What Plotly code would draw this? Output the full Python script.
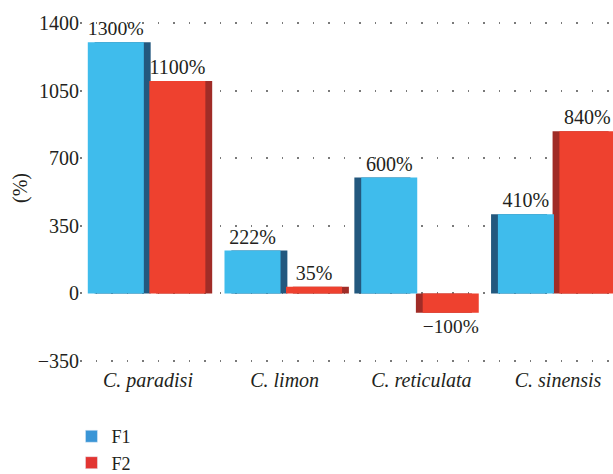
import plotly.graph_objects as go

categories = ["C. paradisi", "C. limon", "C. reticulata", "C. sinensis"]
f1_values = [1300, 222, 600, 410]
f2_values = [1100, 35, -100, 840]
y_ticks = [-350, 0, 350, 700, 1050, 1400]

BLUE = "#3FBCEC"
BLUE_DARK = "#23587E"
RED = "#EE412F"
RED_DARK = "#A02C27"
LEG_BLUE = "#3A95D6"
LEG_RED = "#E23532"
FONT = "Liberation Serif"
TXT = "#231F20"

x = list(range(len(categories)))
W = 0.41
off_f1 = -0.44
off_f2 = 0.01
side = [0.05 if i < 2 else -0.05 for i in x]

fig = go.Figure()
# 3D side faces
fig.add_trace(go.Bar(x=x, y=f1_values, width=W, offset=[off_f1 + s for s in side],
                     marker=dict(color=BLUE_DARK, line=dict(width=0)),
                     showlegend=False, hoverinfo="skip"))
fig.add_trace(go.Bar(x=x, y=f2_values, width=W, offset=[off_f2 + s for s in side],
                     marker=dict(color=RED_DARK, line=dict(width=0)),
                     showlegend=False, hoverinfo="skip"))
# front faces
fig.add_trace(go.Bar(x=x, y=f1_values, width=W, offset=off_f1, name="F1",
                     marker=dict(color=BLUE, line=dict(width=0)),
                     text=[f"{v}%" for v in f1_values], textposition="outside",
                     textfont=dict(family=FONT, size=20, color=TXT),
                     cliponaxis=False, showlegend=False))
fig.add_trace(go.Bar(x=x, y=f2_values, width=W, offset=off_f2, name="F2",
                     marker=dict(color=RED, line=dict(width=0)),
                     text=[f"{v}%".replace("-", "\u2212") for v in f2_values], textposition="outside",
                     textfont=dict(family=FONT, size=20, color=TXT),
                     cliponaxis=False, showlegend=False))
# legend entries
fig.add_trace(go.Bar(x=[None], y=[None], name="F1", marker=dict(color=LEG_BLUE)))
fig.add_trace(go.Bar(x=[None], y=[None], name="F2", marker=dict(color=LEG_RED)))

fig.update_layout(
    width=613, height=474,
    margin=dict(l=80, r=0, t=10, b=108, autoexpand=False),
    barmode="overlay",
    plot_bgcolor="white", paper_bgcolor="white",
    font=dict(family=FONT, size=20, color=TXT),
    legend=dict(x=-0.016, y=0.118, xref="paper", yref="container",
                xanchor="left", yanchor="top",
                font=dict(family=FONT, size=18, color=TXT),
                tracegroupgap=0),
    xaxis=dict(range=[-0.497, 3.402], tickvals=x, ticktext=categories,
               tickfont=dict(family=FONT, size=20, color=TXT, style="italic"),
               showgrid=False, zeroline=False, showline=False, ticks=""),
    yaxis=dict(range=[-375.9, 1467.3], tickvals=y_ticks,
               ticktext=[str(v).replace("-", "\u2212") for v in y_ticks],
               tickfont=dict(family=FONT, size=20, color=TXT),
               showgrid=True, gridcolor="#7a7a7a", gridwidth=1.5,
               griddash="1.5px,14px",
               zeroline=False, showline=False, ticks="",
               ticklabelstandoff=0,
               title=dict(text="(%)", font=dict(family=FONT, size=20, color=TXT), standoff=4)),
)

fig.write_html("out.html", config={"displayModeBar": False},
               post_script="document.body.style.margin='0';")
